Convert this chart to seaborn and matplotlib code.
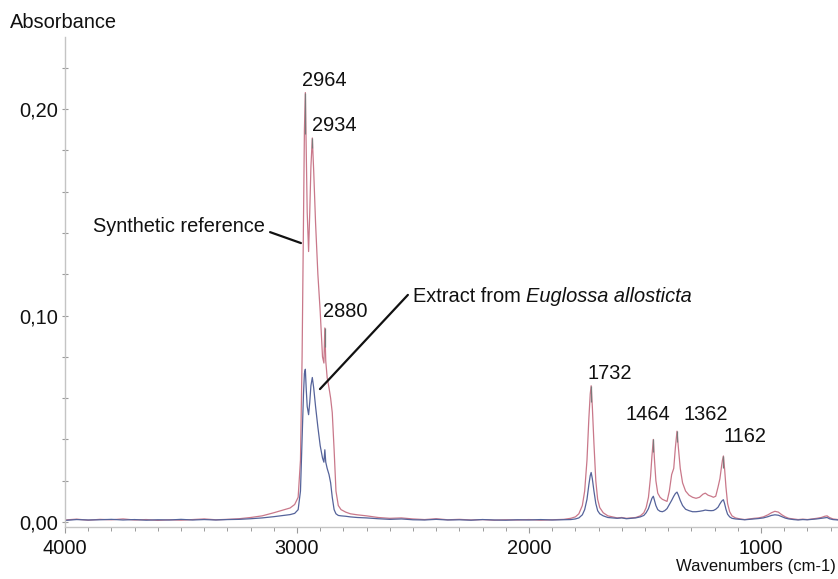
import matplotlib
matplotlib.use("Agg")
import matplotlib.pyplot as plt
import seaborn as sns
import pandas as pd
from matplotlib.ticker import MultipleLocator, FixedLocator, FuncFormatter

# ---------------- data ----------------
wavenumber = [
    4000, 3950, 3900, 3850, 3800, 3750, 3700, 3650, 3600, 3550,
    3500, 3450, 3400, 3350, 3300, 3250, 3200, 3150, 3100, 3060,
    3030, 3010, 2995, 2985, 2978, 2972, 2968, 2964, 2960, 2956,
    2950, 2945, 2940, 2934, 2928, 2920, 2910, 2900, 2890, 2884,
    2880, 2876, 2870, 2862, 2855, 2848, 2840, 2832, 2822, 2810,
    2790, 2770, 2740, 2700, 2650, 2600, 2550, 2500, 2450, 2400,
    2350, 2300, 2250, 2200, 2150, 2100, 2050, 2000, 1950, 1900,
    1850, 1820, 1800, 1785, 1770, 1760, 1750, 1742, 1736, 1732,
    1727, 1720, 1712, 1704, 1695, 1680, 1660, 1640, 1620, 1600,
    1580, 1560, 1540, 1520, 1505, 1495, 1485, 1476, 1470, 1464,
    1459, 1453, 1445, 1435, 1425, 1415, 1405, 1395, 1385, 1376,
    1369, 1362, 1356, 1348, 1338, 1325, 1310, 1295, 1280, 1265,
    1250, 1240, 1228, 1215, 1205, 1195, 1185, 1177, 1170, 1166,
    1162, 1157, 1151, 1144, 1135, 1125, 1110, 1090, 1070, 1050,
    1030, 1010, 990, 970, 955, 940, 925, 910, 895, 880,
    860, 840, 820, 800, 780, 760, 740, 725, 715, 705,
    690, 668,
]

synthetic_reference = [
    .0010, .0014, .0009, .0013, .0011, .0015, .0010, .0012, .0008, .0011,
    .0009, .0012, .0015, .0011, .0013, .0016, .0022, .0030, .0045, .0058,
    .0068, .0085, .0120, .0300, .0800, .1450, .1900, .2080, .1800, .1500,
    .1310, .1500, .1720, .1860, .1700, .1450, .1200, .1020, .0800, .0770,
    .0940, .0780, .0700, .0650, .0600, .0530, .0350, .0150, .0080, .0060,
    .0048, .0040, .0035, .0030, .0022, .0018, .0020, .0015, .0012, .0016,
    .0011, .0013, .0010, .0012, .0009, .0011, .0010, .0012, .0009, .0011,
    .0013, .0018, .0025, .0040, .0080, .0150, .0300, .0500, .0620, .0660,
    .0560, .0380, .0200, .0110, .0070, .0045, .0030, .0025, .0020, .0022,
    .0018, .0020, .0022, .0030, .0045, .0070, .0120, .0220, .0320, .0400,
    .0300, .0200, .0140, .0120, .0110, .0105, .0100, .0150, .0230, .0260,
    .0360, .0440, .0360, .0260, .0190, .0150, .0130, .0120, .0115, .0120,
    .0135, .0140, .0130, .0125, .0120, .0125, .0170, .0210, .0270, .0300,
    .0320, .0260, .0170, .0090, .0050, .0030, .0020, .0015, .0012, .0015,
    .0018, .0020, .0025, .0035, .0045, .0052, .0048, .0035, .0025, .0018,
    .0015, .0012, .0014, .0012, .0015, .0018, .0022, .0028, .0030, .0022,
    .0015, .0012,
]

extract_euglossa = [
    .0008, .0012, .0010, .0011, .0013, .0010, .0012, .0009, .0011, .0010,
    .0013, .0010, .0012, .0010, .0012, .0013, .0016, .0020, .0026, .0032,
    .0036, .0042, .0060, .0150, .0400, .0620, .0720, .0740, .0640, .0560,
    .0520, .0580, .0660, .0700, .0650, .0560, .0460, .0370, .0310, .0290,
    .0350, .0290, .0260, .0230, .0190, .0120, .0060, .0040, .0032, .0030,
    .0028, .0025, .0022, .0020, .0016, .0013, .0015, .0011, .0010, .0013,
    .0010, .0011, .0009, .0012, .0010, .0009, .0011, .0010, .0012, .0010,
    .0011, .0012, .0015, .0020, .0035, .0060, .0110, .0180, .0225, .0240,
    .0210, .0150, .0090, .0055, .0040, .0030, .0022, .0020, .0018, .0020,
    .0016, .0018, .0020, .0025, .0032, .0045, .0065, .0095, .0115, .0125,
    .0105, .0080, .0060, .0052, .0050, .0055, .0065, .0085, .0105, .0125,
    .0138, .0145, .0130, .0105, .0080, .0062, .0055, .0050, .0050, .0052,
    .0055, .0058, .0056, .0055, .0056, .0062, .0072, .0088, .0100, .0105,
    .0108, .0090, .0062, .0038, .0025, .0018, .0015, .0013, .0011, .0013,
    .0015, .0017, .0020, .0026, .0032, .0035, .0033, .0026, .0019, .0015,
    .0012, .0010, .0012, .0011, .0013, .0015, .0018, .0020, .0022, .0016,
    .0012, .0010,
]

peak_labels = ["2964", "2934", "2880", "1732", "1464", "1362", "1162"]
peak_wn = [2964, 2934, 2880, 1732, 1464, 1362, 1162]
peak_tip_base = [0.188, 0.181, 0.085, 0.058, 0.034, 0.039, 0.026]
label_wn = [2978, 2935, 2888, 1746, 1582, 1336, 1162]
label_abs = [0.214, 0.192, 0.102, 0.072, 0.052, 0.052, 0.0415]

y_ticks = [0.0, 0.10, 0.20]
x_ticks = [4000, 3000, 2000, 1000]

assert len(wavenumber) == len(synthetic_reference) == len(extract_euglossa)

# ---------------- figure ----------------
sns.set_style("white")
plt.rcParams["font.family"] = ["Liberation Sans", "DejaVu Sans"]

FS = 14.4
TXT = "#111111"

fig = plt.figure(figsize=(8.38, 5.79), dpi=100)
ax = fig.add_axes([65 / 838, 52 / 579, 1 - 65 / 838, (527 - 37) / 579])

df = pd.concat([
    pd.DataFrame({"wn": wavenumber, "abs": synthetic_reference, "series": "Synthetic reference"}),
    pd.DataFrame({"wn": wavenumber, "abs": extract_euglossa, "series": "Extract"}),
])
palette = {"Synthetic reference": "#c9788a", "Extract": "#55639a"}
sns.lineplot(data=df, x="wn", y="abs", hue="series", palette=palette,
             estimator=None, sort=False, linewidth=0.9, legend=False, ax=ax)

# grey tips of the labelled peaks
ref_lookup = dict(zip(wavenumber, synthetic_reference))
ax.vlines(peak_wn, peak_tip_base, [ref_lookup[w] for w in peak_wn],
          colors="#7a7a7a", linewidth=0.9, zorder=3)

for lab, xw, ya in zip(peak_labels, label_wn, label_abs):
    ax.text(xw, ya, lab, ha="left", va="center", fontsize=FS, color=TXT)

# annotations
ax.text(3138, 0.1429, "Synthetic reference", ha="right", va="center",
        fontsize=FS, color=TXT)
ax.plot([3116, 2983], [0.1404, 0.1351], color=TXT, linewidth=1.6)

ax.plot([2522, 2901], [0.110, 0.0644], color=TXT, linewidth=1.6)
t1 = ax.text(2500, 0.109, "Extract from ", ha="left", va="center",
             fontsize=FS, color=TXT)
ax.annotate("Euglossa allosticta", xy=(1, 0), xycoords=t1, ha="left", va="bottom",
            fontsize=FS, fontstyle="italic", color=TXT)

ax.set_xlim(4000, 668)
ax.set_ylim(-0.0024, 0.2349)
ax.set_xlabel("")
ax.set_ylabel("")

ax.xaxis.set_major_locator(FixedLocator(x_ticks))
ax.xaxis.set_minor_locator(MultipleLocator(100))
ax.yaxis.set_major_locator(FixedLocator(y_ticks))
ax.yaxis.set_minor_locator(MultipleLocator(0.02))
ax.yaxis.set_major_formatter(FuncFormatter(lambda v, p: f"{v:.2f}".replace(".", ",")))
ax.xaxis.set_major_formatter(FuncFormatter(lambda v, p: f"{int(round(v))}"))

for s in ["top", "right"]:
    ax.spines[s].set_visible(False)
for s in ["left", "bottom"]:
    ax.spines[s].set_color("#c4c4c4")
    ax.spines[s].set_linewidth(1.0)

ax.tick_params(axis="y", which="both", direction="inout", length=4, width=0.8,
               color="#9a9a9a", labelsize=FS, labelcolor=TXT, pad=3, left=True)
ax.tick_params(axis="x", which="major", direction="out", length=4, width=0.8,
               color="#9a9a9a", labelsize=FS, labelcolor=TXT, pad=5, bottom=True)
ax.tick_params(axis="x", which="minor", direction="out", length=3, width=0.7,
               color="#9a9a9a", bottom=True)

fig.text(10 / 838, 1 - 22 / 579, "Absorbance", ha="left", va="center",
         fontsize=FS, color=TXT)
fig.text(836 / 838, 1 - 566 / 579, "Wavenumbers (cm-1)", ha="right", va="center",
         fontsize=12, color=TXT)

fig.savefig("out.png", dpi=100)
